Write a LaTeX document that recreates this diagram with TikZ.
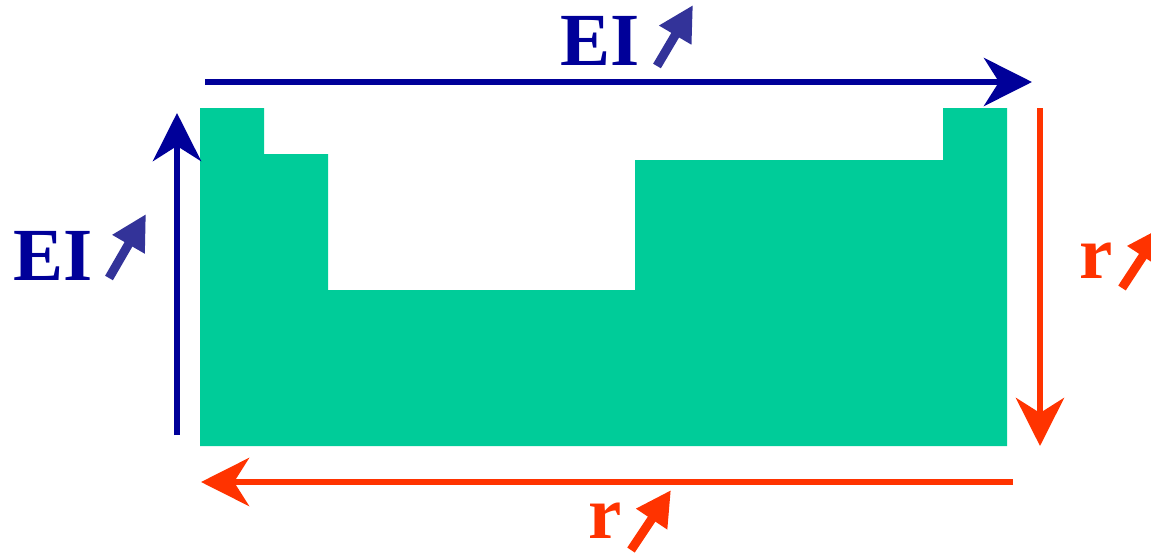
\documentclass[tikz,border=0pt]{standalone}
\usepackage{fontspec}
\setmainfont{Liberation Serif}
\usetikzlibrary{arrows.meta}
\definecolor{navy}{HTML}{000099}
\definecolor{slate}{HTML}{333399}
\definecolor{redor}{HTML}{FF3300}
\definecolor{mint}{HTML}{00CC99}
\tikzset{
  bigarrow/.style={line width=6.5pt, -{Stealth[length=48pt, width=48pt, inset=15pt]}},
  smallarrow/.style={line width=9pt, -{Triangle[length=35pt, width=35pt]}},
  lbl/.style={inner sep=0pt, anchor=base, font=\fontsize{75}{75}\selectfont\bfseries}
}
\begin{document}
\begin{tikzpicture}[x=1pt,y=-1pt]
\useasboundingbox (0,0) rectangle (1151,552);
\clip (0,0) rectangle (1151,552);
% table shape
\fill[mint] (200,108) -- (264,108) -- (264,154) -- (328,154) -- (328,290) -- (635,290)
  -- (635,160) -- (943,160) -- (943,108) -- (1007,108) -- (1007,446) -- (200,446) -- cycle;
% main arrows
\coordinate (ts) at (205,82);  \coordinate (te) at (1032,82);
\coordinate (ls) at (177,435); \coordinate (le) at (177,113);
\coordinate (rs) at (1040,108); \coordinate (re) at (1040,446);
\coordinate (bs) at (1013,482); \coordinate (be) at (201,482);
\draw[bigarrow, navy] (ts) -- (te);
\draw[bigarrow, navy] (ls) -- (le);
\draw[bigarrow, redor] (rs) -- (re);
\draw[bigarrow, redor] (bs) -- (be);
% labels
\node[lbl, text=navy] (eitop) at (600,65) {EI};
\node[lbl, text=navy] (eileft) at (53,280) {EI};
\node[lbl, text=redor] (rright) at (1096,278) {r};
\node[lbl, text=redor] (rbottom) at (605,538) {r};
% small trend arrows
\coordinate (a1s) at (657,66);  \coordinate (a1e) at (693,5);
\coordinate (a2s) at (109,278); \coordinate (a2e) at (146,214);
\coordinate (a3s) at (1122,288); \coordinate (a3e) at (1162,227);
\coordinate (a4s) at (631,550); \coordinate (a4e) at (671,490);
\draw[smallarrow, slate] (a1s) -- (a1e);
\draw[smallarrow, slate] (a2s) -- (a2e);
\draw[smallarrow, redor] (a3s) -- (a3e);
\draw[smallarrow, redor] (a4s) -- (a4e);
\end{tikzpicture}
\end{document}
